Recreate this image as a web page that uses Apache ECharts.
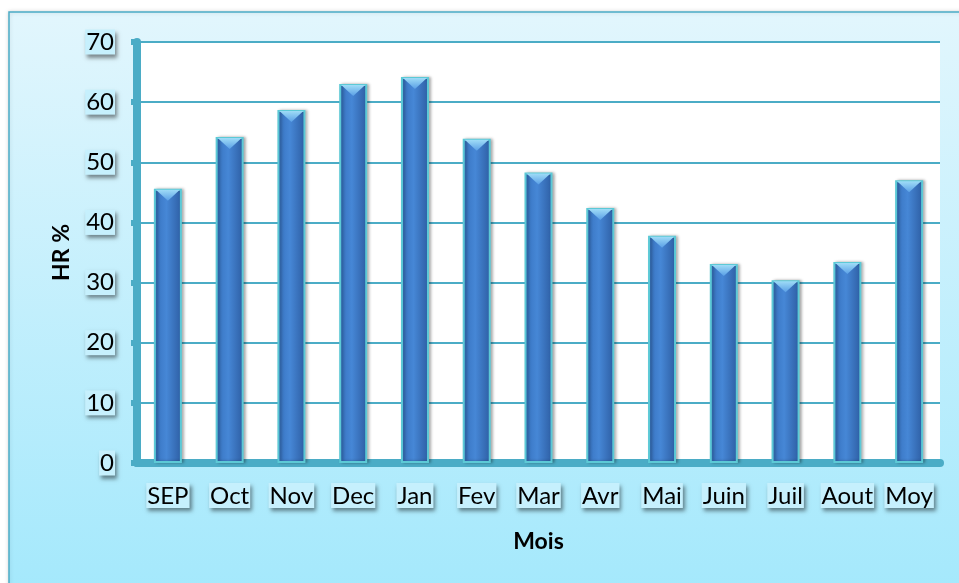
<!DOCTYPE html>
<html>
<head>
<meta charset="utf-8">
<script src="https://cdn.jsdelivr.net/npm/echarts@6/dist/echarts.min.js"></script>
<style>
html,body{margin:0;padding:0;background:#fff;}
#chart{width:959px;height:583px;}
</style>
</head>
<body>
<div id="chart"></div>
<script>
// mois et humidite relative (%)
var mois = ['SEP', 'Oct', 'Nov', 'Dec', 'Jan', 'Fev', 'Mar', 'Avr', 'Mai', 'Juin', 'Juil', 'Aout', 'Moy'];
var hr = [45.6, 54.2, 58.7, 63.0, 64.2, 53.9, 48.3, 42.4, 37.8, 33.1, 30.4, 33.4, 47.0];

var teal = '#4bacc6';

var labelBox = {
    fontFamily: 'Lato',
    fontSize: 24,
    color: '#000',
    backgroundColor: '#c6f0fd',
    padding: [1, 1, 0, 1],
    shadowColor: 'rgba(0,0,0,0.45)',
    shadowBlur: 4,
    shadowOffsetX: 2,
    shadowOffsetY: 3
};

var chart = echarts.init(document.getElementById('chart'));

var option = {
    animation: false,
    graphic: [{
        type: 'rect',
        z: -10,
        shape: { x: 9, y: 12, width: 960, height: 600 },
        style: {
            fill: new echarts.graphic.LinearGradient(0, 0, 0, 1, [
                { offset: 0, color: '#e2f6fd' },
                { offset: 1, color: '#a2e8fc' }
            ]),
            stroke: teal,
            lineWidth: 1.5,
            shadowColor: 'rgba(0,0,0,0.15)',
            shadowBlur: 4
        }
    }],
    grid: {
        left: 137,
        right: 19,
        top: 42,
        bottom: 120,
        show: true,
        backgroundColor: '#fff',
        borderWidth: 0
    },
    xAxis: {
        type: 'category',
        data: mois,
        name: 'Mois',
        nameLocation: 'middle',
        nameGap: 67,
        nameTextStyle: { fontFamily: 'Lato', fontSize: 23, fontWeight: 'bold', color: '#000' },
        axisLine: { lineStyle: { color: teal, width: 8 } },
        axisTick: { show: false },
        axisLabel: Object.assign({ margin: 20, interval: 0 }, labelBox)
    },
    yAxis: {
        type: 'value',
        min: 0,
        max: 70,
        interval: 10,
        name: 'HR %',
        nameLocation: 'middle',
        nameGap: 64,
        nameRotate: 90,
        nameTextStyle: { fontFamily: 'Lato', fontSize: 23, fontWeight: 'bold', color: '#000' },
        axisLine: { show: true, lineStyle: { color: teal, width: 8 } },
        axisTick: { show: true, length: 6, lineStyle: { color: teal, width: 6 } },
        splitLine: { lineStyle: { color: teal, width: 2 } },
        axisLabel: Object.assign({ margin: 22 }, labelBox)
    },
    series: [{
        type: 'bar',
        data: hr,
        barWidth: 28,
        itemStyle: {
            color: new echarts.graphic.LinearGradient(0, 0, 1, 0, [
                { offset: 0, color: '#3671be' },
                { offset: 0.45, color: '#4687d6' },
                { offset: 1, color: '#2d5da2' }
            ]),
            borderColor: '#5cc9d6',
            borderWidth: 2,
            shadowColor: 'rgba(0,0,0,0.3)',
            shadowBlur: 3,
            shadowOffsetX: 2
        }
    }, {
        // biseau en haut des barres
        type: 'pictorialBar',
        data: hr,
        symbol: 'path://M0,0 L10,0 L5,4 Z',
        symbolSize: [24, 11],
        symbolPosition: 'end',
        symbolOffset: [0, 1],
        z: 5,
        itemStyle: {
            color: new echarts.graphic.LinearGradient(0, 0, 0, 1, [
                { offset: 0, color: '#9fdcf7' },
                { offset: 1, color: '#5a9fe6' }
            ])
        }
    }]
};

chart.setOption(option);
</script>
</body>
</html>
